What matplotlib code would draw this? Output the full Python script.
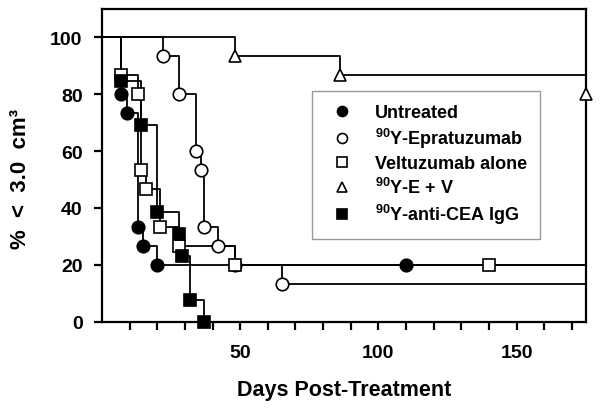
import numpy as np
import matplotlib.pyplot as plt
import matplotlib

matplotlib.rcParams.update({'font.family': 'Liberation Sans', 'font.weight': 'bold',
                            'mathtext.fontset': 'custom',
                            'mathtext.rm': 'Liberation Sans:bold',
                            'mathtext.bf': 'Liberation Sans:bold',
                            'mathtext.default': 'rm'})

# days of events / censoring and % of tumours still < 3.0 cm3
untreated_t = [7, 9, 13, 15, 20, 110]
untreated_s = [80, 73.3, 33.3, 26.7, 20, 20]
eprat_t = [22, 28, 34, 36, 37, 42, 48, 65]
eprat_s = [93.3, 80, 60, 53.3, 33.3, 26.7, 20, 13.3]
velt_t = [7, 13, 14, 16, 21, 28, 48, 140]
velt_s = [86.7, 80, 53.3, 46.7, 33.3, 26.7, 20, 20]
ev_t = [48, 86, 175]
ev_s = [93.3, 86.7, 80]
cea_t = [7, 14, 20, 28, 29, 32, 37]
cea_s = [84.6, 69.2, 38.5, 30.8, 23.1, 7.7, 0]

labels = ['Untreated', r'$^{90}$Y-Epratuzumab', 'Veltuzumab alone',
          r'$^{90}$Y-E + V', r'$^{90}$Y-anti-CEA IgG']

fig = plt.figure(figsize=(6.02, 4.14), dpi=100)
ax = fig.add_axes([0.1694, 0.221, 0.8035, 0.7548])

series = [(untreated_t, untreated_s, 'o', 'k', 9),
          (eprat_t, eprat_s, 'o', 'w', 9),
          (velt_t, velt_s, 's', 'w', 8.5),
          (ev_t, ev_s, '^', 'w', 9),
          (cea_t, cea_s, 's', 'k', 8.5)]
end = 175
for (t, s, m, fc, ms), lab in zip(series, labels):
    x = [0] + list(t)
    y = [100] + list(s)
    if t[-1] < end and s[-1] > 0:
        x.append(end)
        y.append(s[-1])
    ax.step(x, y, where='post', color='k', lw=1.3, clip_on=False)
    ax.plot(t, s, ls='none', marker=m, mfc=fc, mec='k', mew=1.2, ms=ms,
            clip_on=False, zorder=3, label=lab)

ax.set_xlim(0, 175)
ax.set_ylim(0, 110)
ax.set_xticks([50, 100, 150])
ax.set_xticks([t for t in range(10, 171, 10) if t % 50], minor=True)
ax.set_yticks(range(0, 101, 20))
for sp in ax.spines.values():
    sp.set_linewidth(1.6)
ax.tick_params(which='both', direction='out', length=6, width=1.6, labelsize=14)
ax.tick_params(axis='x', pad=10)
ax.tick_params(axis='y', pad=8)
ax.set_xlabel('Days Post-Treatment', fontsize=15.5, fontweight='bold', labelpad=13)
ax.set_ylabel('%  <  3.0  cm³', fontsize=16, fontweight='bold')
ax.yaxis.set_label_coords(-0.147, 0.46)

leg = ax.legend(loc='upper left', bbox_to_anchor=(0.4335, 0.7366), fontsize=13,
                frameon=True, fancybox=False, edgecolor='#999999', framealpha=1,
                handlelength=2.0, handletextpad=0.8, borderpad=0.7,
                borderaxespad=0, labelspacing=0.28, markerscale=0.8)
leg.get_frame().set_linewidth(1.0)

plt.savefig('out.png', dpi=100)
